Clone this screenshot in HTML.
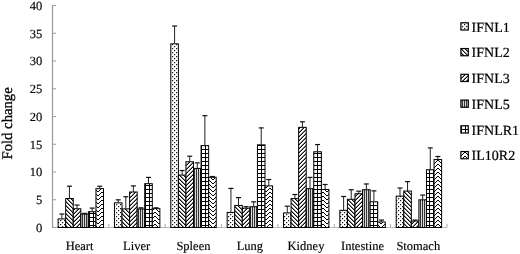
<!DOCTYPE html>
<html><head><meta charset="utf-8"><style>
html,body{margin:0;padding:0;background:#fff;}
svg{display:block;text-rendering:geometricPrecision;filter:grayscale(1);}
.t{font-family:"Liberation Serif",serif;font-size:12.5px;fill:#000;stroke:#000;stroke-width:0.15px;}
.l{font-family:"Liberation Serif",serif;font-size:14px;fill:#000;stroke:#000;stroke-width:0.2px;}
</style></head><body>
<svg width="520" height="254" viewBox="0 0 520 254">
<defs><pattern id="pDot" x="0" y="0" width="4" height="4" patternUnits="userSpaceOnUse" shape-rendering="crispEdges"><rect width="4" height="4" fill="#fff"/><rect x="0" y="0" width="1" height="1" fill="#111"/><rect x="1" y="0" width="1" height="1" fill="#ccc"/><rect x="0" y="1" width="1" height="1" fill="#ccc"/><rect x="2" y="2" width="1" height="1" fill="#111"/><rect x="3" y="2" width="1" height="1" fill="#ccc"/><rect x="2" y="3" width="1" height="1" fill="#ccc"/></pattern>
<pattern id="pBack" x="0" y="0" width="4" height="4" patternUnits="userSpaceOnUse" shape-rendering="crispEdges"><rect width="4" height="4" fill="#fff"/><rect x="0" y="0" width="1" height="1" fill="#111"/><rect x="1" y="0" width="1" height="1" fill="#888"/><rect x="1" y="1" width="1" height="1" fill="#111"/><rect x="2" y="1" width="1" height="1" fill="#888"/><rect x="2" y="2" width="1" height="1" fill="#111"/><rect x="3" y="2" width="1" height="1" fill="#888"/><rect x="0" y="3" width="1" height="1" fill="#888"/><rect x="3" y="3" width="1" height="1" fill="#111"/></pattern>
<pattern id="pFwd" x="0" y="0" width="4" height="4" patternUnits="userSpaceOnUse" shape-rendering="crispEdges"><rect width="4" height="4" fill="#fff"/><rect x="2" y="0" width="1" height="1" fill="#888"/><rect x="3" y="0" width="1" height="1" fill="#111"/><rect x="1" y="1" width="1" height="1" fill="#888"/><rect x="2" y="1" width="1" height="1" fill="#111"/><rect x="0" y="2" width="1" height="1" fill="#888"/><rect x="1" y="2" width="1" height="1" fill="#111"/><rect x="0" y="3" width="1" height="1" fill="#111"/><rect x="3" y="3" width="1" height="1" fill="#888"/></pattern>
<pattern id="pVert" x="0" y="0" width="2" height="4" patternUnits="userSpaceOnUse" shape-rendering="crispEdges"><rect width="2" height="4" fill="#d8d8d8"/><rect x="0" y="0" width="1" height="1" fill="#333"/><rect x="0" y="1" width="1" height="1" fill="#333"/><rect x="0" y="2" width="1" height="1" fill="#333"/><rect x="0" y="3" width="1" height="1" fill="#333"/></pattern>
<pattern id="pGrid" x="1" y="1" width="4" height="4" patternUnits="userSpaceOnUse" shape-rendering="crispEdges"><rect width="4" height="4" fill="#fff"/><rect x="0" y="0" width="1" height="1" fill="#000"/><rect x="1" y="0" width="1" height="1" fill="#000"/><rect x="2" y="0" width="1" height="1" fill="#000"/><rect x="3" y="0" width="1" height="1" fill="#000"/><rect x="0" y="1" width="1" height="1" fill="#000"/><rect x="0" y="2" width="1" height="1" fill="#000"/><rect x="0" y="3" width="1" height="1" fill="#000"/></pattern>
<pattern id="pChev" x="1" y="0" width="8" height="4" patternUnits="userSpaceOnUse" shape-rendering="crispEdges"><rect width="8" height="4" fill="#fff"/><rect x="0" y="0" width="1" height="1" fill="#000"/><rect x="7" y="0" width="1" height="1" fill="#000"/><rect x="1" y="1" width="1" height="1" fill="#000"/><rect x="6" y="1" width="1" height="1" fill="#000"/><rect x="2" y="2" width="1" height="1" fill="#000"/><rect x="5" y="2" width="1" height="1" fill="#000"/><rect x="3" y="3" width="1" height="1" fill="#000"/><rect x="4" y="3" width="1" height="1" fill="#000"/></pattern>
<pattern id="pChev0" x="6" y="0" width="8" height="4" patternUnits="userSpaceOnUse" shape-rendering="crispEdges"><rect width="8" height="4" fill="#fff"/><rect x="0" y="0" width="1" height="1" fill="#000"/><rect x="7" y="0" width="1" height="1" fill="#000"/><rect x="1" y="1" width="1" height="1" fill="#000"/><rect x="6" y="1" width="1" height="1" fill="#000"/><rect x="2" y="2" width="1" height="1" fill="#000"/><rect x="5" y="2" width="1" height="1" fill="#000"/><rect x="3" y="3" width="1" height="1" fill="#000"/><rect x="4" y="3" width="1" height="1" fill="#000"/></pattern>
<pattern id="pChev1" x="3" y="0" width="8" height="4" patternUnits="userSpaceOnUse" shape-rendering="crispEdges"><rect width="8" height="4" fill="#fff"/><rect x="0" y="0" width="1" height="1" fill="#000"/><rect x="7" y="0" width="1" height="1" fill="#000"/><rect x="1" y="1" width="1" height="1" fill="#000"/><rect x="6" y="1" width="1" height="1" fill="#000"/><rect x="2" y="2" width="1" height="1" fill="#000"/><rect x="5" y="2" width="1" height="1" fill="#000"/><rect x="3" y="3" width="1" height="1" fill="#000"/><rect x="4" y="3" width="1" height="1" fill="#000"/></pattern>
<pattern id="pChev2" x="1" y="0" width="8" height="4" patternUnits="userSpaceOnUse" shape-rendering="crispEdges"><rect width="8" height="4" fill="#fff"/><rect x="0" y="0" width="1" height="1" fill="#000"/><rect x="7" y="0" width="1" height="1" fill="#000"/><rect x="1" y="1" width="1" height="1" fill="#000"/><rect x="6" y="1" width="1" height="1" fill="#000"/><rect x="2" y="2" width="1" height="1" fill="#000"/><rect x="5" y="2" width="1" height="1" fill="#000"/><rect x="3" y="3" width="1" height="1" fill="#000"/><rect x="4" y="3" width="1" height="1" fill="#000"/></pattern>
<pattern id="pChev3" x="6" y="0" width="8" height="4" patternUnits="userSpaceOnUse" shape-rendering="crispEdges"><rect width="8" height="4" fill="#fff"/><rect x="0" y="0" width="1" height="1" fill="#000"/><rect x="7" y="0" width="1" height="1" fill="#000"/><rect x="1" y="1" width="1" height="1" fill="#000"/><rect x="6" y="1" width="1" height="1" fill="#000"/><rect x="2" y="2" width="1" height="1" fill="#000"/><rect x="5" y="2" width="1" height="1" fill="#000"/><rect x="3" y="3" width="1" height="1" fill="#000"/><rect x="4" y="3" width="1" height="1" fill="#000"/></pattern>
<pattern id="pChev4" x="3" y="0" width="8" height="4" patternUnits="userSpaceOnUse" shape-rendering="crispEdges"><rect width="8" height="4" fill="#fff"/><rect x="0" y="0" width="1" height="1" fill="#000"/><rect x="7" y="0" width="1" height="1" fill="#000"/><rect x="1" y="1" width="1" height="1" fill="#000"/><rect x="6" y="1" width="1" height="1" fill="#000"/><rect x="2" y="2" width="1" height="1" fill="#000"/><rect x="5" y="2" width="1" height="1" fill="#000"/><rect x="3" y="3" width="1" height="1" fill="#000"/><rect x="4" y="3" width="1" height="1" fill="#000"/></pattern>
<pattern id="pChev5" x="1" y="0" width="8" height="4" patternUnits="userSpaceOnUse" shape-rendering="crispEdges"><rect width="8" height="4" fill="#fff"/><rect x="0" y="0" width="1" height="1" fill="#000"/><rect x="7" y="0" width="1" height="1" fill="#000"/><rect x="1" y="1" width="1" height="1" fill="#000"/><rect x="6" y="1" width="1" height="1" fill="#000"/><rect x="2" y="2" width="1" height="1" fill="#000"/><rect x="5" y="2" width="1" height="1" fill="#000"/><rect x="3" y="3" width="1" height="1" fill="#000"/><rect x="4" y="3" width="1" height="1" fill="#000"/></pattern>
<pattern id="pChev6" x="6" y="0" width="8" height="4" patternUnits="userSpaceOnUse" shape-rendering="crispEdges"><rect width="8" height="4" fill="#fff"/><rect x="0" y="0" width="1" height="1" fill="#000"/><rect x="7" y="0" width="1" height="1" fill="#000"/><rect x="1" y="1" width="1" height="1" fill="#000"/><rect x="6" y="1" width="1" height="1" fill="#000"/><rect x="2" y="2" width="1" height="1" fill="#000"/><rect x="5" y="2" width="1" height="1" fill="#000"/><rect x="3" y="3" width="1" height="1" fill="#000"/><rect x="4" y="3" width="1" height="1" fill="#000"/></pattern></defs>
<line x1="52.5" y1="5.0" x2="52.5" y2="228.0" stroke="#999" stroke-width="1.2"/>
<line x1="52.5" y1="227.5" x2="446.95" y2="227.5" stroke="#bbb" stroke-width="1"/>
<line x1="52.5" y1="227.50" x2="56.1" y2="227.50" stroke="#999" stroke-width="1"/>
<text x="42.2" y="231.80" text-anchor="end" class="t">0</text>
<line x1="52.5" y1="199.75" x2="56.1" y2="199.75" stroke="#999" stroke-width="1"/>
<text x="42.2" y="204.05" text-anchor="end" class="t">5</text>
<line x1="52.5" y1="172.00" x2="56.1" y2="172.00" stroke="#999" stroke-width="1"/>
<text x="42.2" y="176.30" text-anchor="end" class="t">10</text>
<line x1="52.5" y1="144.25" x2="56.1" y2="144.25" stroke="#999" stroke-width="1"/>
<text x="42.2" y="148.55" text-anchor="end" class="t">15</text>
<line x1="52.5" y1="116.50" x2="56.1" y2="116.50" stroke="#999" stroke-width="1"/>
<text x="42.2" y="120.80" text-anchor="end" class="t">20</text>
<line x1="52.5" y1="88.75" x2="56.1" y2="88.75" stroke="#999" stroke-width="1"/>
<text x="42.2" y="93.05" text-anchor="end" class="t">25</text>
<line x1="52.5" y1="61.00" x2="56.1" y2="61.00" stroke="#999" stroke-width="1"/>
<text x="42.2" y="65.30" text-anchor="end" class="t">30</text>
<line x1="52.5" y1="33.25" x2="56.1" y2="33.25" stroke="#999" stroke-width="1"/>
<text x="42.2" y="37.55" text-anchor="end" class="t">35</text>
<line x1="52.5" y1="5.50" x2="56.1" y2="5.50" stroke="#999" stroke-width="1"/>
<text x="42.2" y="9.80" text-anchor="end" class="t">40</text>
<line x1="108.85" y1="227.5" x2="108.85" y2="224.0" stroke="#aaa" stroke-width="1"/>
<line x1="165.20" y1="227.5" x2="165.20" y2="224.0" stroke="#aaa" stroke-width="1"/>
<line x1="221.55" y1="227.5" x2="221.55" y2="224.0" stroke="#aaa" stroke-width="1"/>
<line x1="277.90" y1="227.5" x2="277.90" y2="224.0" stroke="#aaa" stroke-width="1"/>
<line x1="334.25" y1="227.5" x2="334.25" y2="224.0" stroke="#aaa" stroke-width="1"/>
<line x1="390.60" y1="227.5" x2="390.60" y2="224.0" stroke="#aaa" stroke-width="1"/>
<line x1="446.95" y1="227.5" x2="446.95" y2="224.0" stroke="#aaa" stroke-width="1"/>
<rect x="58.10" y="218.92" width="7.57" height="8.58" fill="url(#pDot)" stroke="#000" stroke-width="1"/>
<rect x="65.67" y="198.50" width="7.57" height="29.00" fill="url(#pBack)" stroke="#000" stroke-width="1"/>
<rect x="73.24" y="208.76" width="7.57" height="18.74" fill="url(#pFwd)" stroke="#000" stroke-width="1"/>
<rect x="80.81" y="214.09" width="7.57" height="13.41" fill="url(#pVert)" stroke="#000" stroke-width="1"/>
<rect x="88.38" y="211.71" width="7.57" height="15.79" fill="url(#pGrid)" stroke="#000" stroke-width="1"/>
<rect x="95.95" y="188.67" width="7.57" height="38.83" fill="url(#pChev0)" stroke="#000" stroke-width="1"/>
<line x1="61.89" y1="218.92" x2="61.89" y2="214.04" stroke="#222" stroke-width="1"/>
<line x1="59.39" y1="214.04" x2="64.39" y2="214.04" stroke="#111" stroke-width="1.2"/>
<line x1="69.45" y1="198.50" x2="69.45" y2="186.18" stroke="#222" stroke-width="1"/>
<line x1="66.95" y1="186.18" x2="71.95" y2="186.18" stroke="#111" stroke-width="1.2"/>
<line x1="77.03" y1="208.76" x2="77.03" y2="205.05" stroke="#222" stroke-width="1"/>
<line x1="74.53" y1="205.05" x2="79.53" y2="205.05" stroke="#111" stroke-width="1.2"/>
<line x1="84.59" y1="214.09" x2="84.59" y2="213.37" stroke="#222" stroke-width="1"/>
<line x1="82.09" y1="213.37" x2="87.09" y2="213.37" stroke="#111" stroke-width="1.2"/>
<line x1="92.16" y1="211.71" x2="92.16" y2="208.10" stroke="#222" stroke-width="1"/>
<line x1="89.66" y1="208.10" x2="94.66" y2="208.10" stroke="#111" stroke-width="1.2"/>
<line x1="99.73" y1="188.67" x2="99.73" y2="186.23" stroke="#222" stroke-width="1"/>
<line x1="97.23" y1="186.23" x2="102.23" y2="186.23" stroke="#111" stroke-width="1.2"/>
<text x="79.60" y="249.6" text-anchor="middle" class="t">Heart</text>
<rect x="114.45" y="202.83" width="7.57" height="24.67" fill="url(#pDot)" stroke="#000" stroke-width="1"/>
<rect x="122.02" y="208.87" width="7.57" height="18.63" fill="url(#pBack)" stroke="#000" stroke-width="1"/>
<rect x="129.59" y="192.00" width="7.57" height="35.50" fill="url(#pFwd)" stroke="#000" stroke-width="1"/>
<rect x="137.16" y="208.93" width="7.57" height="18.57" fill="url(#pVert)" stroke="#000" stroke-width="1"/>
<rect x="144.73" y="183.68" width="7.57" height="43.82" fill="url(#pGrid)" stroke="#000" stroke-width="1"/>
<rect x="152.30" y="208.65" width="7.57" height="18.85" fill="url(#pChev1)" stroke="#000" stroke-width="1"/>
<line x1="118.23" y1="202.83" x2="118.23" y2="199.83" stroke="#222" stroke-width="1"/>
<line x1="115.73" y1="199.83" x2="120.73" y2="199.83" stroke="#111" stroke-width="1.2"/>
<line x1="125.80" y1="208.87" x2="125.80" y2="196.72" stroke="#222" stroke-width="1"/>
<line x1="123.30" y1="196.72" x2="128.30" y2="196.72" stroke="#111" stroke-width="1.2"/>
<line x1="133.37" y1="192.00" x2="133.37" y2="185.90" stroke="#222" stroke-width="1"/>
<line x1="130.87" y1="185.90" x2="135.87" y2="185.90" stroke="#111" stroke-width="1.2"/>
<line x1="140.94" y1="208.93" x2="140.94" y2="207.82" stroke="#222" stroke-width="1"/>
<line x1="138.44" y1="207.82" x2="143.44" y2="207.82" stroke="#111" stroke-width="1.2"/>
<line x1="148.51" y1="183.68" x2="148.51" y2="177.41" stroke="#222" stroke-width="1"/>
<line x1="146.01" y1="177.41" x2="151.01" y2="177.41" stroke="#111" stroke-width="1.2"/>
<line x1="156.08" y1="208.65" x2="156.08" y2="207.82" stroke="#222" stroke-width="1"/>
<line x1="153.58" y1="207.82" x2="158.58" y2="207.82" stroke="#111" stroke-width="1.2"/>
<text x="136.60" y="249.6" text-anchor="middle" class="t">Liver</text>
<rect x="170.80" y="43.82" width="7.57" height="183.68" fill="url(#pDot)" stroke="#000" stroke-width="1"/>
<rect x="178.37" y="175.08" width="7.57" height="52.42" fill="url(#pBack)" stroke="#000" stroke-width="1"/>
<rect x="185.94" y="161.75" width="7.57" height="65.75" fill="url(#pFwd)" stroke="#000" stroke-width="1"/>
<rect x="193.51" y="168.42" width="7.57" height="59.08" fill="url(#pVert)" stroke="#000" stroke-width="1"/>
<rect x="201.08" y="145.66" width="7.57" height="81.84" fill="url(#pGrid)" stroke="#000" stroke-width="1"/>
<rect x="208.65" y="177.30" width="7.57" height="50.20" fill="url(#pChev2)" stroke="#000" stroke-width="1"/>
<line x1="174.58" y1="43.82" x2="174.58" y2="26.06" stroke="#222" stroke-width="1"/>
<line x1="172.08" y1="26.06" x2="177.08" y2="26.06" stroke="#111" stroke-width="1.2"/>
<line x1="182.15" y1="175.08" x2="182.15" y2="170.52" stroke="#222" stroke-width="1"/>
<line x1="179.65" y1="170.52" x2="184.65" y2="170.52" stroke="#111" stroke-width="1.2"/>
<line x1="189.72" y1="161.75" x2="189.72" y2="156.21" stroke="#222" stroke-width="1"/>
<line x1="187.22" y1="156.21" x2="192.22" y2="156.21" stroke="#111" stroke-width="1.2"/>
<line x1="197.29" y1="168.42" x2="197.29" y2="162.87" stroke="#222" stroke-width="1"/>
<line x1="194.79" y1="162.87" x2="199.79" y2="162.87" stroke="#111" stroke-width="1.2"/>
<line x1="204.86" y1="145.66" x2="204.86" y2="115.69" stroke="#222" stroke-width="1"/>
<line x1="202.36" y1="115.69" x2="207.36" y2="115.69" stroke="#111" stroke-width="1.2"/>
<line x1="212.43" y1="177.30" x2="212.43" y2="176.52" stroke="#222" stroke-width="1"/>
<line x1="209.93" y1="176.52" x2="214.93" y2="176.52" stroke="#111" stroke-width="1.2"/>
<text x="193.45" y="249.6" text-anchor="middle" class="t">Spleen</text>
<rect x="227.15" y="212.43" width="7.57" height="15.07" fill="url(#pDot)" stroke="#000" stroke-width="1"/>
<rect x="234.72" y="205.43" width="7.57" height="22.07" fill="url(#pBack)" stroke="#000" stroke-width="1"/>
<rect x="242.29" y="208.21" width="7.57" height="19.29" fill="url(#pFwd)" stroke="#000" stroke-width="1"/>
<rect x="249.86" y="206.71" width="7.57" height="20.79" fill="url(#pVert)" stroke="#000" stroke-width="1"/>
<rect x="257.43" y="144.83" width="7.57" height="82.67" fill="url(#pGrid)" stroke="#000" stroke-width="1"/>
<rect x="265.00" y="185.90" width="7.57" height="41.60" fill="url(#pChev3)" stroke="#000" stroke-width="1"/>
<line x1="230.94" y1="212.43" x2="230.94" y2="188.40" stroke="#222" stroke-width="1"/>
<line x1="228.44" y1="188.40" x2="233.44" y2="188.40" stroke="#111" stroke-width="1.2"/>
<line x1="238.50" y1="205.43" x2="238.50" y2="197.61" stroke="#222" stroke-width="1"/>
<line x1="236.00" y1="197.61" x2="241.00" y2="197.61" stroke="#111" stroke-width="1.2"/>
<line x1="246.08" y1="208.21" x2="246.08" y2="206.71" stroke="#222" stroke-width="1"/>
<line x1="243.58" y1="206.71" x2="248.58" y2="206.71" stroke="#111" stroke-width="1.2"/>
<line x1="253.65" y1="206.71" x2="253.65" y2="201.83" stroke="#222" stroke-width="1"/>
<line x1="251.15" y1="201.83" x2="256.14" y2="201.83" stroke="#111" stroke-width="1.2"/>
<line x1="261.22" y1="144.83" x2="261.22" y2="127.90" stroke="#222" stroke-width="1"/>
<line x1="258.72" y1="127.90" x2="263.72" y2="127.90" stroke="#111" stroke-width="1.2"/>
<line x1="268.79" y1="185.90" x2="268.79" y2="179.52" stroke="#222" stroke-width="1"/>
<line x1="266.29" y1="179.52" x2="271.29" y2="179.52" stroke="#111" stroke-width="1.2"/>
<text x="249.90" y="249.6" text-anchor="middle" class="t">Lung</text>
<rect x="283.50" y="212.93" width="7.57" height="14.57" fill="url(#pDot)" stroke="#000" stroke-width="1"/>
<rect x="291.07" y="198.61" width="7.57" height="28.89" fill="url(#pBack)" stroke="#000" stroke-width="1"/>
<rect x="298.64" y="127.34" width="7.57" height="100.16" fill="url(#pFwd)" stroke="#000" stroke-width="1"/>
<rect x="306.21" y="188.67" width="7.57" height="38.83" fill="url(#pVert)" stroke="#000" stroke-width="1"/>
<rect x="313.78" y="151.77" width="7.57" height="75.73" fill="url(#pGrid)" stroke="#000" stroke-width="1"/>
<rect x="321.35" y="189.50" width="7.57" height="38.00" fill="url(#pChev4)" stroke="#000" stroke-width="1"/>
<line x1="287.29" y1="212.93" x2="287.29" y2="206.16" stroke="#222" stroke-width="1"/>
<line x1="284.79" y1="206.16" x2="289.79" y2="206.16" stroke="#111" stroke-width="1.2"/>
<line x1="294.86" y1="198.61" x2="294.86" y2="194.50" stroke="#222" stroke-width="1"/>
<line x1="292.36" y1="194.50" x2="297.36" y2="194.50" stroke="#111" stroke-width="1.2"/>
<line x1="302.43" y1="127.34" x2="302.43" y2="121.79" stroke="#222" stroke-width="1"/>
<line x1="299.93" y1="121.79" x2="304.93" y2="121.79" stroke="#111" stroke-width="1.2"/>
<line x1="310.00" y1="188.67" x2="310.00" y2="177.41" stroke="#222" stroke-width="1"/>
<line x1="307.50" y1="177.41" x2="312.50" y2="177.41" stroke="#111" stroke-width="1.2"/>
<line x1="317.56" y1="151.77" x2="317.56" y2="144.55" stroke="#222" stroke-width="1"/>
<line x1="315.06" y1="144.55" x2="320.06" y2="144.55" stroke="#111" stroke-width="1.2"/>
<line x1="325.14" y1="189.50" x2="325.14" y2="184.51" stroke="#222" stroke-width="1"/>
<line x1="322.64" y1="184.51" x2="327.64" y2="184.51" stroke="#111" stroke-width="1.2"/>
<text x="306.00" y="249.6" text-anchor="middle" class="t">Kidney</text>
<rect x="339.85" y="210.32" width="7.57" height="17.18" fill="url(#pDot)" stroke="#000" stroke-width="1"/>
<rect x="347.42" y="199.27" width="7.57" height="28.23" fill="url(#pBack)" stroke="#000" stroke-width="1"/>
<rect x="354.99" y="193.72" width="7.57" height="33.78" fill="url(#pFwd)" stroke="#000" stroke-width="1"/>
<rect x="362.56" y="189.73" width="7.57" height="37.77" fill="url(#pVert)" stroke="#000" stroke-width="1"/>
<rect x="370.13" y="201.83" width="7.57" height="25.67" fill="url(#pGrid)" stroke="#000" stroke-width="1"/>
<rect x="377.70" y="221.97" width="7.57" height="5.53" fill="url(#pChev5)" stroke="#000" stroke-width="1"/>
<line x1="343.64" y1="210.32" x2="343.64" y2="196.50" stroke="#222" stroke-width="1"/>
<line x1="341.14" y1="196.50" x2="346.14" y2="196.50" stroke="#111" stroke-width="1.2"/>
<line x1="351.21" y1="199.27" x2="351.21" y2="189.73" stroke="#222" stroke-width="1"/>
<line x1="348.71" y1="189.73" x2="353.71" y2="189.73" stroke="#111" stroke-width="1.2"/>
<line x1="358.78" y1="193.72" x2="358.78" y2="191.17" stroke="#222" stroke-width="1"/>
<line x1="356.28" y1="191.17" x2="361.28" y2="191.17" stroke="#111" stroke-width="1.2"/>
<line x1="366.35" y1="189.73" x2="366.35" y2="183.96" stroke="#222" stroke-width="1"/>
<line x1="363.85" y1="183.96" x2="368.85" y2="183.96" stroke="#111" stroke-width="1.2"/>
<line x1="373.92" y1="201.83" x2="373.92" y2="190.84" stroke="#222" stroke-width="1"/>
<line x1="371.42" y1="190.84" x2="376.42" y2="190.84" stroke="#111" stroke-width="1.2"/>
<line x1="381.49" y1="221.97" x2="381.49" y2="220.03" stroke="#222" stroke-width="1"/>
<line x1="378.99" y1="220.03" x2="383.99" y2="220.03" stroke="#111" stroke-width="1.2"/>
<text x="362.50" y="249.6" text-anchor="middle" class="t">Intestine</text>
<rect x="396.20" y="196.17" width="7.57" height="31.33" fill="url(#pDot)" stroke="#000" stroke-width="1"/>
<rect x="403.77" y="191.06" width="7.57" height="36.44" fill="url(#pBack)" stroke="#000" stroke-width="1"/>
<rect x="411.34" y="221.03" width="7.57" height="6.47" fill="url(#pFwd)" stroke="#000" stroke-width="1"/>
<rect x="418.91" y="199.83" width="7.57" height="27.67" fill="url(#pVert)" stroke="#000" stroke-width="1"/>
<rect x="426.48" y="169.80" width="7.57" height="57.70" fill="url(#pGrid)" stroke="#000" stroke-width="1"/>
<rect x="434.05" y="159.54" width="7.57" height="67.96" fill="url(#pChev6)" stroke="#000" stroke-width="1"/>
<line x1="399.99" y1="196.17" x2="399.99" y2="188.01" stroke="#222" stroke-width="1"/>
<line x1="397.49" y1="188.01" x2="402.49" y2="188.01" stroke="#111" stroke-width="1.2"/>
<line x1="407.56" y1="191.06" x2="407.56" y2="181.62" stroke="#222" stroke-width="1"/>
<line x1="405.06" y1="181.62" x2="410.06" y2="181.62" stroke="#111" stroke-width="1.2"/>
<line x1="415.13" y1="221.03" x2="415.13" y2="220.03" stroke="#222" stroke-width="1"/>
<line x1="412.63" y1="220.03" x2="417.63" y2="220.03" stroke="#111" stroke-width="1.2"/>
<line x1="422.70" y1="199.83" x2="422.70" y2="195.06" stroke="#222" stroke-width="1"/>
<line x1="420.20" y1="195.06" x2="425.20" y2="195.06" stroke="#111" stroke-width="1.2"/>
<line x1="430.27" y1="169.80" x2="430.27" y2="147.88" stroke="#222" stroke-width="1"/>
<line x1="427.77" y1="147.88" x2="432.77" y2="147.88" stroke="#111" stroke-width="1.2"/>
<line x1="437.84" y1="159.54" x2="437.84" y2="156.48" stroke="#222" stroke-width="1"/>
<line x1="435.34" y1="156.48" x2="440.34" y2="156.48" stroke="#111" stroke-width="1.2"/>
<text x="418.30" y="249.6" text-anchor="middle" class="t">Stomach</text>
<text transform="translate(12.2,123.4) rotate(-90)" text-anchor="middle" class="t" style="font-size:14.7px;stroke:#000;stroke-width:0.3px">Fold change</text>
<rect x="460.9" y="22.80" width="7.4" height="7.2" fill="url(#pDot)" stroke="#000" stroke-width="1.2"/>
<text x="471.6" y="31.50" class="l">IFNL1</text>
<rect x="460.9" y="48.55" width="7.4" height="7.2" fill="url(#pBack)" stroke="#000" stroke-width="1.2"/>
<text x="471.6" y="57.25" class="l">IFNL2</text>
<rect x="460.9" y="74.30" width="7.4" height="7.2" fill="url(#pFwd)" stroke="#000" stroke-width="1.2"/>
<text x="471.6" y="83.00" class="l">IFNL3</text>
<rect x="460.9" y="100.05" width="7.4" height="7.2" fill="url(#pVert)" stroke="#000" stroke-width="1.2"/>
<text x="471.6" y="108.75" class="l">IFNL5</text>
<rect x="460.9" y="125.80" width="7.4" height="7.2" fill="url(#pGrid)" stroke="#000" stroke-width="1.2"/>
<text x="471.6" y="134.50" class="l">IFNLR1</text>
<rect x="460.9" y="151.55" width="7.4" height="7.2" fill="url(#pChev)" stroke="#000" stroke-width="1.2"/>
<text x="471.6" y="160.25" class="l">IL10R2</text>
</svg>
</body></html>
